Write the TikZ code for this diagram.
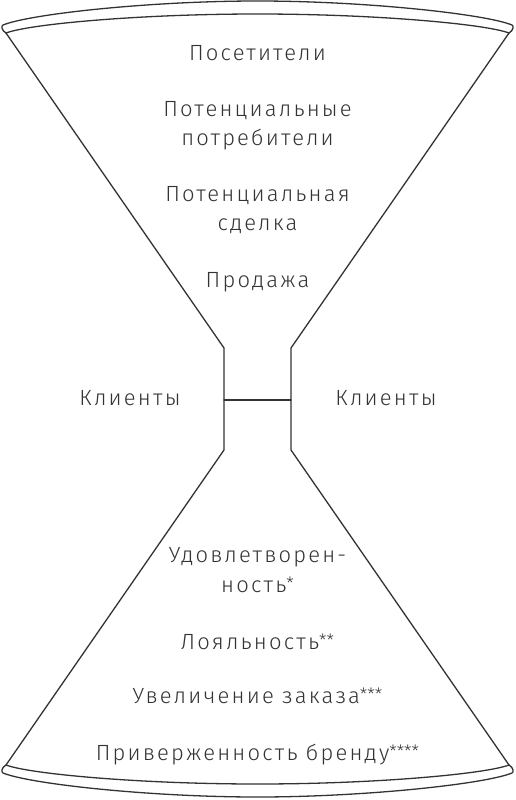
\documentclass[tikz,border=0pt]{standalone}
\usepackage{fontspec}
\setmainfont{Fira Sans}[UprightFont=* Light, LetterSpace=10]
\definecolor{ink}{HTML}{333333}
\newcommand{\sups}[1]{\raisebox{3pt}{\fontsize{17pt}{17pt}\selectfont\addfontfeatures{LetterSpace=0}#1}}
\begin{document}
\begin{tikzpicture}[x=1pt,y=-1pt,
  outline/.style={draw=ink, line width=1.3pt, line join=round, line cap=round},
  lbl/.style={text=ink, font=\fontsize{22pt}{26pt}\selectfont, anchor=base, inner sep=0pt}]
\useasboundingbox (0,0) rectangle (515,800);
% key points
\coordinate (tl) at (6,33);
\coordinate (tr) at (509,33);
\coordinate (nlt) at (224,348);
\coordinate (nrt) at (291,348);
\coordinate (nlm) at (224,400);
\coordinate (nrm) at (291,400);
\coordinate (nlb) at (224,450);
\coordinate (nrb) at (291,450);
\coordinate (bl) at (6,765);
\coordinate (br) at (509,765);
% sides
\draw[outline] (tl) -- (nlt) -- (nlb) -- (bl);
\draw[outline] (tr) -- (nrt) -- (nrb) -- (br);
\draw[outline] (nlm) -- (nrm);
% top rim
\draw[outline] (tl) .. controls (30,24) and (140,14) .. (257.5,14) .. controls (375,14) and (485,24) .. (tr);
\draw[outline] (tl) .. controls (1.5,30.5) and (1.1,25.8) .. (3,25) .. controls (30,14) and (150,1) .. (257.5,1) .. controls (365,1) and (485,14) .. (512,25) .. controls (513.9,25.8) and (513.5,30.5) .. (tr);
% bottom rim
\draw[outline] (bl) .. controls (30,774) and (140,784) .. (257.5,784) .. controls (375,784) and (485,774) .. (br);
\draw[outline] (bl) .. controls (1.5,767.5) and (1.1,772.2) .. (3,773) .. controls (30,784) and (150,797) .. (257.5,797) .. controls (365,797) and (485,784) .. (512,773) .. controls (513.9,772.2) and (513.5,767.5) .. (br);
% labels
\node[lbl] (t1) at (257.5,61) {Посетители};
\node[lbl] (t2) at (257.5,116) {Потенциальные};
\node[lbl] (t3) at (257.5,145) {потребители};
\node[lbl] (t4) at (257.5,201) {Потенциальная};
\node[lbl] (t5) at (257.5,230) {сделка};
\node[lbl] (t6) at (257.5,287) {Продажа};
\node[lbl] (k1) at (130,405) {Клиенты};
\node[lbl] (k2) at (386,405) {Клиенты};
\node[lbl] (b1) at (257.5,562) {Удовлетворен-};
\node[lbl] (b2) at (257.5,592) {ность\sups{*}};
\node[lbl] (b3) at (257.5,649) {Лояльность\sups{**}};
\node[lbl] (b4) at (257.5,703) {Увеличение заказа\sups{***}};
\node[lbl] (b5) at (257.5,760) {Приверженность бренду\sups{****}};
\end{tikzpicture}
\end{document}
